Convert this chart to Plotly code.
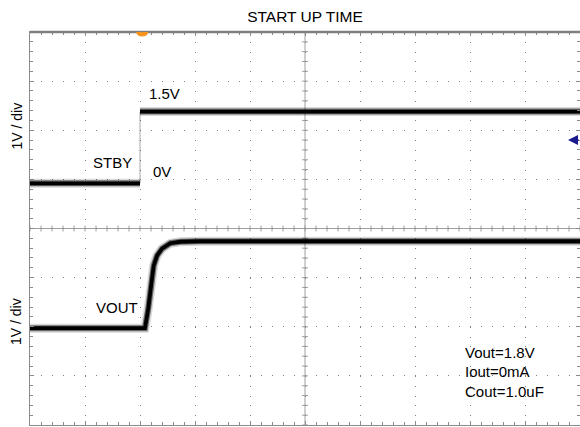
import numpy as np
import plotly.graph_objects as go

# ---------------- data ----------------
# time axis in scope divisions (10 div full screen), voltages in volts
stby_t = [0.0, 2.0, 2.0, 10.0]
stby_v = [0.0, 0.0, 1.46, 1.46]

vout_t = [0.0, 2.09, 2.15, 2.18, 2.22, 2.25, 2.31, 2.40, 2.55, 2.73, 3.09, 10.0]
vout_v = [0.0, 0.0, 0.40, 0.73, 1.03, 1.28, 1.48, 1.62, 1.73, 1.76, 1.77, 1.77]

stby_zero_div = 4.92   # screen position (div) of STBY 0 V
vout_zero_div = 1.97   # screen position (div) of VOUT 0 V
volts_per_div = 1.0

trigger_t = 2.04
marker_level_div = 5.80

title_text = "START UP TIME"
ylabel_text = "1V / div"
cond_texts = ["Vout=1.8V", "Iout=0mA", "Cout=1.0uF"]

# ---------------- figure ----------------
FONT = "Liberation Sans, Arial, sans-serif"
W, H = 580, 427
ML, MR, MT, MB = 30, 0, 32, 2
NX, NY = 10, 8
px_x = (W - ML - MR) / NX
px_y = (H - MT - MB) / NY


def screen(vals, zero):
    return [zero + v / volts_per_div for v in vals]


stby_y = screen(stby_v, stby_zero_div)
vout_y = screen(vout_v, vout_zero_div)

# split STBY into flat segments (the fast edge is drawn faint)
stby_seg_x = stby_t[:2] + [None] + stby_t[2:]
stby_seg_y = stby_y[:2] + [None] + stby_y[2:]

fig = go.Figure()

fig.add_trace(go.Scatter(x=stby_t, y=stby_y, mode="lines",
                         line=dict(color="rgba(0,0,0,0.35)", width=1),
                         hoverinfo="skip", showlegend=False))

for width, color in [(9, "rgba(0,0,0,0.15)"), (6, "rgba(0,0,0,0.5)"), (3.8, "#000000")]:
    fig.add_trace(go.Scatter(x=stby_seg_x, y=stby_seg_y, mode="lines",
                             line=dict(color=color, width=width),
                             hoverinfo="skip", showlegend=False, connectgaps=False))
    fig.add_trace(go.Scatter(x=vout_t, y=vout_y, mode="lines",
                             line=dict(color=color, width=width),
                             hoverinfo="skip", showlegend=False))

# center cross lines with small crossing ticks
tick_half_x = 3 / px_x
tick_half_y = 3 / px_y
path = ""
for xv in np.arange(0, NX + 1e-9, 0.2):
    path += f"M{xv:.4f},{NY/2 - tick_half_y:.4f}L{xv:.4f},{NY/2 + tick_half_y:.4f}"
for yv in np.arange(0, NY + 1e-9, 0.2):
    path += f"M{NX/2 - tick_half_x:.4f},{yv:.4f}L{NX/2 + tick_half_x:.4f},{yv:.4f}"

shapes = [
    dict(type="line", xref="x", yref="y", x0=0, x1=NX, y0=NY / 2, y1=NY / 2,
         line=dict(color="#a0a0a0", width=1), layer="below"),
    dict(type="line", xref="x", yref="y", x0=NX / 2, x1=NX / 2, y0=0, y1=NY,
         line=dict(color="#a0a0a0", width=1), layer="below"),
    dict(type="path", xref="x", yref="y", path=path,
         line=dict(color="#a0a0a0", width=1), layer="below"),
    dict(type="line", xref="paper", yref="paper", x0=0, x1=1, y0=1, y1=1,
         line=dict(color="#808080", width=2.5)),
    dict(type="circle", xref="x", yref="y",
         x0=trigger_t - 0.11, x1=trigger_t + 0.11, y0=NY - 0.09, y1=NY + 0.09,
         fillcolor="#f7941d", line=dict(width=0)),
]

ann = []
def lab(text, x, y, size=15):
    ann.append(dict(text=text, x=x, y=y, xref="x", yref="y", xanchor="left",
                    yanchor="middle", showarrow=False,
                    font=dict(family=FONT, size=size, color="#000")))

def dx(px):
    return (px - ML) / px_x

def dy(py):
    return (H - MB - py) / px_y

lab("1.5V", dx(147), dy(93))
lab("STBY", dx(91), dy(162.5))
lab("0V", dx(151), dy(171))
lab("VOUT", dx(94), dy(307))
for i, t in enumerate(cond_texts):
    lab(t, dx(463), dy(352.5 + 19.3 * i), size=15)

for yc in [dy(126.5), dy(322)]:
    ann.append(dict(text=ylabel_text, x=(16 - ML) / (W - ML - MR), y=yc,
                    xref="paper", yref="y", textangle=-90, showarrow=False,
                    xanchor="center", yanchor="middle",
                    font=dict(family=FONT, size=14, color="#000")))

ann.append(dict(text="", x=dx(568), y=marker_level_div, xref="x", yref="y",
                showarrow=True, ax=13, ay=0, arrowhead=2, arrowsize=1,
                arrowwidth=2, arrowcolor="#1a1a8c"))

axis_common = dict(showticklabels=False, showline=True, linecolor="#8a8a8a",
                   linewidth=1.2, mirror="ticks", zeroline=False,
                   ticks="inside", ticklen=4, tickcolor="#8a8a8a",
                   showgrid=True, gridcolor="#808080", gridwidth=1,
                   fixedrange=True)

fig.update_layout(
    width=W, height=H,
    margin=dict(l=ML, r=MR, t=MT, b=MB),
    paper_bgcolor="white", plot_bgcolor="white",
    title=dict(text=title_text, x=0.5, xref="paper", xanchor="center",
               y=1 - 16.5 / H, yanchor="middle",
               font=dict(family=FONT, size=15.5, color="#000")),
    xaxis=dict(range=[0, NX], dtick=1, tick0=0,
               griddash=f"1px,{px_y/5 - 1:.3f}px",
               minor=dict(dtick=0.2, ticks="inside", ticklen=3,
                          tickcolor="#8a8a8a", showgrid=False),
               **axis_common),
    yaxis=dict(range=[0, NY], dtick=1, tick0=0,
               griddash=f"1px,{px_x/5 - 1:.3f}px",
               minor=dict(dtick=0.2, ticks="inside", ticklen=3,
                          tickcolor="#8a8a8a", showgrid=False),
               **axis_common),
    shapes=shapes,
    annotations=ann,
    showlegend=False,
)

fig.write_html("out.html", config={"displayModeBar": False},
               post_script="document.body.style.margin='0px';document.body.style.overflow='hidden';")
